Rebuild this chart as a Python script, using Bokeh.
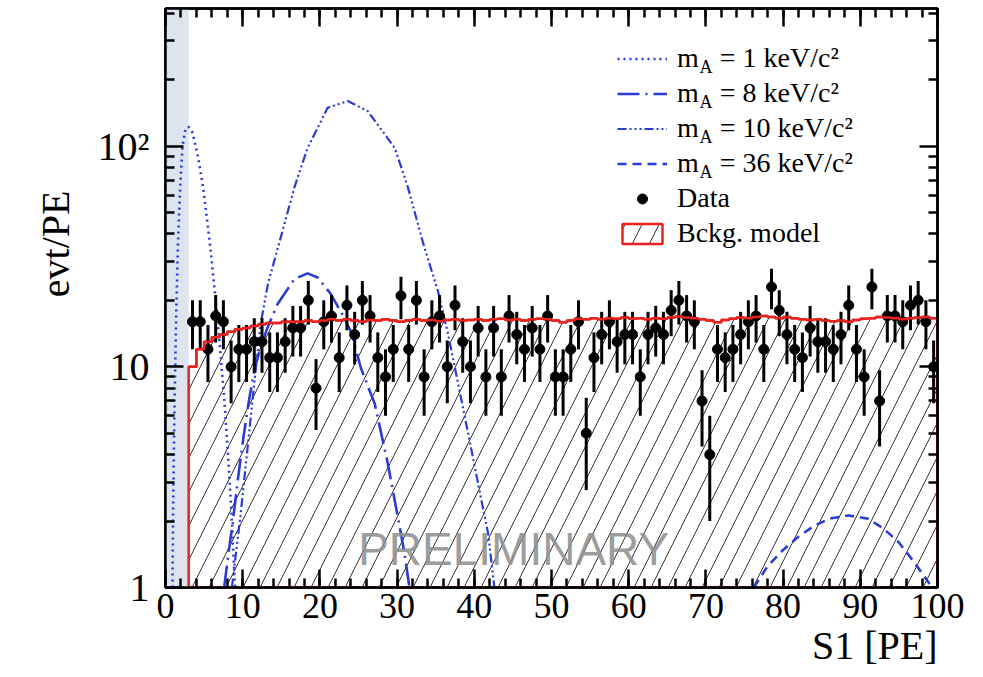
import math
from bokeh.plotting import figure
from bokeh.models import (Range1d, FixedTicker, SingleIntervalTicker, LinearAxis, LogAxis,
                          BoxAnnotation, Label, Legend, LegendItem, Title)
from bokeh.embed import file_html
from bokeh.resources import INLINE

# ---------------- data ----------------
threshold = 3.0
bin_low = list(range(3, 100))          # lower edges of 1-PE bins, 3..99
bin_center = [b + 0.5 for b in bin_low]

data_counts = [16, 16, 12, 17, 16, 10, 12, 12, 13, 13,   # 3.5 .. 12.5
               11, 11, 13, 15, 15, 20, 8, 16, 17, 11,    # 13.5 .. 22.5
               19, 14, 20, 17, 11, 9, 12, 21, 12, 20,    # 23.5 .. 32.5
               9, 16, 17, 10, 19, 13, 10, 15, 9, 15,     # 33.5 .. 42.5
               9, 17, 14, 12, 15, 12, 17, 9, 9, 12,      # 43.5 .. 52.5
               16, 5, 11, 14, 16, 13, 14, 14, 9, 14,     # 53.5 .. 62.5
               15, 14, 18, 20, 17, 16, 7, 4, 12, 11,     # 63.5 .. 72.5
               12, 14, 16, 17, 12, 23, 18, 14, 12, 11,   # 73.5 .. 82.5
               15, 13, 13, 12, 14, 19, 12, 9, 23, 7,     # 83.5 .. 92.5
               17, 17, 16, 19, 20, 16, 10]               # 93.5 .. 99.5

bkg_model = [10.0, 12.0, 13.0, 13.6, 14.0, 14.4, 14.8, 15.0, 15.3, 15.6,
             15.8, 15.8, 16.0, 16.0, 16.0, 16.2, 16.0, 16.2, 16.4, 16.2,
             16.4, 16.2, 16.0, 16.3, 16.2, 16.4, 16.2, 16.0, 16.2, 16.4,
             16.2, 16.3, 16.1, 16.3, 16.4, 16.2, 16.3, 16.4, 16.2, 16.4,
             16.5, 16.3, 16.4, 16.2, 16.4, 16.5, 16.4, 16.2, 15.9, 16.2,
             16.5, 16.4, 16.6, 16.4, 16.6, 16.5, 16.7, 16.5, 16.6, 16.4,
             16.6, 16.5, 16.7, 16.9, 16.7, 16.6, 16.4, 16.2, 15.9, 16.3,
             16.5, 16.7, 16.6, 16.8, 17.0, 16.8, 16.6, 16.8, 16.6, 16.4,
             16.3, 16.4, 16.2, 16.1, 16.2, 16.0, 16.3, 16.5, 16.6, 16.8,
             16.7, 16.6, 16.4, 16.6, 16.7, 16.8, 16.6]

m1_x = [0.9, 1.0, 1.15, 1.35, 1.6, 1.9, 2.2, 2.6, 3.0, 3.5, 4.2, 4.9, 5.8, 6.5, 7.1, 7.7, 8.2, 8.6, 9.0]
m1_y = [1.0, 2.5, 6.0, 15.0, 35.0, 65.0, 100.0, 120.0, 122.0, 115.0, 90.0, 64.0, 35.0, 20.0, 11.8, 6.5, 3.5, 2.0, 1.0]

m8_x = [7.6, 8.2, 8.7, 9.3, 10.1, 10.8, 11.5, 12.3, 13.2, 14.5, 16.7, 18.4, 19.7, 21.4, 22.9, 24.0, 25.3, 27.1, 28.8, 30.1, 30.9, 31.6]
m8_y = [1.0, 1.47, 1.95, 2.95, 4.8, 7.0, 9.6, 12.2, 15.0, 19.2, 25.0, 26.5, 25.4, 21.4, 17.3, 14.5, 9.9, 6.8, 3.64, 2.08, 1.47, 1.0]

m10_x = [8.6, 9.2, 9.7, 10.6, 11.5, 12.3, 13.3, 14.5, 16.7, 18.4, 21.0, 23.6, 26.2, 29.7, 31.4, 33.5, 35.3, 36.6, 37.9, 39.2, 40.5, 41.8, 42.6]
m10_y = [1.0, 1.5, 2.1, 4.2, 8.4, 15.5, 24.0, 34.0, 65.0, 98.0, 149.0, 160.0, 144.0, 98.0, 65.0, 35.0, 22.0, 14.1, 8.4, 5.0, 2.95, 1.75, 1.0]

m36_x = [76.2, 78.0, 80.0, 82.0, 84.0, 86.0, 88.5, 91.0, 93.0, 95.0, 97.0, 99.3]
m36_y = [1.0, 1.25, 1.48, 1.7, 1.9, 2.05, 2.12, 2.05, 1.85, 1.6, 1.3, 1.0]

x_major = list(range(0, 101, 10))
y_major = [1, 10, 100]
y_minor = [2, 3, 4, 5, 6, 7, 8, 9, 20, 30, 40, 50, 60, 70, 80, 90, 200, 300, 400]
y_labels = {1: "1", 10: "10", 100: "10²"}

legend_labels = ["m\u00a0\u00a0 = 1 keV/c²", "m\u00a0\u00a0 = 8 keV/c²",
                 "m\u00a0\u00a0 = 10 keV/c²", "m\u00a0\u00a0 = 36 keV/c²",
                 "Data", "Bckg. model"]

# ---------------- styling ----------------
BLUE = "#2b3bd6"
RED = "#e8231f"
SERIF = "Liberation Serif"

p = figure(width=983, height=677, x_range=Range1d(0, 100), y_range=Range1d(1, 420),
           y_axis_type="log", output_backend="svg", toolbar_location=None,
           min_border_left=165, min_border_right=46, min_border_top=8, min_border_bottom=90)
p.xgrid.visible = False
p.ygrid.visible = False
p.outline_line_color = "black"
p.outline_line_width = 2.5
p.background_fill_color = "white"

# threshold shading
p.add_layout(BoxAnnotation(left=0, right=threshold, fill_color="#dde4ee", fill_alpha=1.0,
                           line_color=None, level="underlay"))

# background model (hatched step area)
edges = bin_low + [100]
px = [edges[0]]
py = [1.0]
for i, b in enumerate(bkg_model):
    px += [edges[i], edges[i + 1]]
    py += [b, b]
px.append(edges[-1])
py.append(1.0)
r_bkg = p.patch(px, py, fill_color=None, hatch_pattern="/", hatch_color="#333333",
                hatch_scale=34, hatch_weight=1.0, line_color=RED, line_width=2.5)

# signal curves
r1 = p.line(m1_x, m1_y, line_color=BLUE, line_width=2.6, line_dash="2 4")
r8 = p.line(m8_x, m8_y, line_color=BLUE, line_width=2.6, line_dash="22 6 2 6")
r10 = p.line(m10_x, m10_y, line_color=BLUE, line_width=2.2, line_dash="9 3 2 3 2 3 2 3")
r36 = p.line(m36_x, m36_y, line_color=BLUE, line_width=2.6, line_dash="9 6")

# data with Poisson error bars
err_lo = [v - math.sqrt(v) for v in data_counts]
err_hi = [v + math.sqrt(v) for v in data_counts]
p.segment(x0=bin_center, y0=err_lo, x1=bin_center, y1=err_hi, line_color="black", line_width=3)
r_data = p.scatter(bin_center, data_counts, size=10, marker="circle", fill_color="black", line_color="black")

# red step line on top
p.line(px[1:-1], py[1:-1], line_color=RED, line_width=2.5)

# axes
for ax in p.xaxis:
    ax.ticker = SingleIntervalTicker(interval=10, num_minor_ticks=5)
for ax in p.yaxis:
    ax.ticker = FixedTicker(ticks=y_major, minor_ticks=y_minor)
    ax.major_label_overrides = y_labels

def style_axis(ax, size="36px"):
    ax.axis_line_width = 2.5
    ax.axis_line_color = "black"
    ax.major_tick_in = 18
    ax.major_tick_out = 0
    ax.minor_tick_in = 9
    ax.minor_tick_out = 0
    ax.major_tick_line_width = 2.5
    ax.minor_tick_line_width = 2.5
    ax.major_label_text_font = SERIF
    ax.major_label_text_font_size = size
    ax.major_label_text_color = "black"

for ax in p.xaxis:
    style_axis(ax, "36px")
    ax.major_label_standoff = 6
for ax in p.yaxis:
    style_axis(ax, "40px")
    ax.major_label_standoff = 16

top_ax = LinearAxis(ticker=SingleIntervalTicker(interval=10, num_minor_ticks=5),
                    major_label_overrides={t: "" for t in x_major})
style_axis(top_ax)
p.add_layout(top_ax, "above")
right_ax = LogAxis(ticker=FixedTicker(ticks=y_major, minor_ticks=y_minor),
                   major_label_overrides={t: "" for t in y_major})
style_axis(right_ax)
p.add_layout(right_ax, "right")

# axis titles
p.add_layout(Title(text="S1 [PE]", align="right", text_font=SERIF, text_font_size="40px",
                   text_font_style="normal", text_color="black", standoff=0, offset=0), "below")
p.add_layout(Title(text="evt/PE", align="right", text_font=SERIF, text_font_size="40px",
                   text_font_style="normal", text_color="black", standoff=34, offset=182), "left")

# watermark
p.add_layout(Label(x=45.1, y=1.5, text="PRELIMINARY", text_align="center", text_baseline="middle",
                   text_font="Liberation Sans", text_font_size="46px", text_color="#8f8f8f",
                   text_alpha=0.9))

# legend
legend = Legend(items=[LegendItem(label=legend_labels[0], renderers=[r1]),
                       LegendItem(label=legend_labels[1], renderers=[r8]),
                       LegendItem(label=legend_labels[2], renderers=[r10]),
                       LegendItem(label=legend_labels[3], renderers=[r36]),
                       LegendItem(label=legend_labels[4], renderers=[r_data]),
                       LegendItem(label=legend_labels[5], renderers=[r_bkg])],
                location=(452, 338), glyph_width=50, glyph_height=25, label_height=32,
                spacing=3, padding=0, margin=0, label_standoff=10,
                label_text_font=SERIF, label_text_font_size="28px", label_text_color="black",
                border_line_color=None, background_fill_alpha=0)
p.add_layout(legend)

for k in range(4):
    p.add_layout(Label(x=534, y=521 - 35 * k, x_units="screen", y_units="screen", text="A",
                       text_align="left", text_baseline="middle", text_font=SERIF,
                       text_font_size="18px", text_color="black"))

open("out.html", "w").write(file_html(p, INLINE))
